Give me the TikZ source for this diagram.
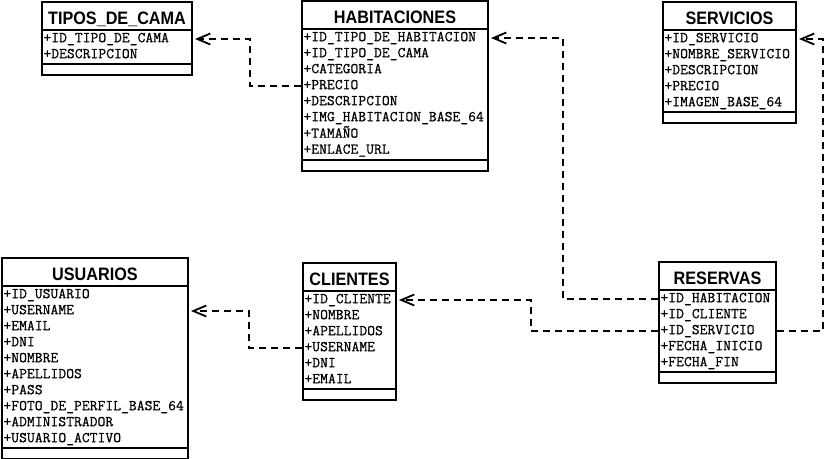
\documentclass[tikz,border=0pt]{standalone}
\usepackage{fontspec}
\setmonofont{Latin Modern Mono}[LetterSpace=0.8, FakeBold=0.9]
\newfontfamily\titlefont{Liberation Sans}
\usetikzlibrary{shapes.multipart,arrows.meta}

\newcommand{\titulo}[2]{\makebox[#1pt][c]{\titlefont\bfseries\fontsize{18}{18}\selectfont\rule[-5pt]{0pt}{26pt}\scalebox{0.9}[1]{#2}}}
\newcommand{\campos}[2]{\makebox[#1pt][l]{\ttfamily\fontsize{15}{16}\selectfont\begin{tabular}{@{}l@{}}#2\end{tabular}}}
\newcommand{\pie}{\rule{0pt}{9pt}}

\tikzset{
  tabla/.style={draw, line width=2pt, rectangle split, rectangle split parts=3,
    inner xsep=1.5pt, inner ysep=0pt, anchor=north west},
  rel/.style={line width=1.8pt, dash pattern=on 7pt off 5pt, -{Straight Barb[length=13pt,width=11pt]}, shorten >=2pt}
}

\begin{document}
\begin{tikzpicture}[x=1pt, y=-1pt]
    \useasboundingbox (0,0) rectangle (826,458);
    % tablas
    \node[tabla] (tipos) at (41,1) {\titulo{147}{TIPOS\_DE\_CAMA}\nodepart{two}\campos{147}{+ID\_TIPO\_DE\_CAMA\\+DESCRIPCION}\nodepart{three}\pie};
    \node[tabla] (hab) at (301,0) {\titulo{183}{HABITACIONES}\nodepart{two}\campos{183}{+ID\_TIPO\_DE\_HABITACION\\+ID\_TIPO\_DE\_CAMA\\+CATEGORIA\\+PRECIO\\+DESCRIPCION\\+IMG\_HABITACION\_BASE\_64\\+TAMAÑO\\+ENLACE\_URL}\nodepart{three}\pie};
    \node[tabla] (serv) at (662,1) {\titulo{130}{SERVICIOS}\nodepart{two}\campos{130}{+ID\_SERVICIO\\+NOMBRE\_SERVICIO\\+DESCRIPCION\\+PRECIO\\+IMAGEN\_BASE\_64}\nodepart{three}\pie};
    \node[tabla] (usu) at (1,257) {\titulo{183}{USUARIOS}\nodepart{two}\campos{183}{+ID\_USUARIO\\+USERNAME\\+EMAIL\\+DNI\\+NOMBRE\\+APELLIDOS\\+PASS\\+FOTO\_DE\_PERFIL\_BASE\_64\\+ADMINISTRADOR\\+USUARIO\_ACTIVO}\nodepart{three}\pie};
    \node[tabla] (cli) at (302,262) {\titulo{90}{CLIENTES}\nodepart{two}\campos{90}{+ID\_CLIENTE\\+NOMBRE\\+APELLIDOS\\+USERNAME\\+DNI\\+EMAIL}\nodepart{three}\pie};
    \node[tabla] (res) at (658,261) {\titulo{114}{RESERVAS}\nodepart{two}\campos{114}{+ID\_HABITACION\\+ID\_CLIENTE\\+ID\_SERVICIO\\+FECHA\_INICIO\\+FECHA\_FIN}\nodepart{three}\pie};
    % filas
    \coordinate (tipos-id) at ([yshift=-9pt]tipos.one split east);
    \coordinate (hab-id) at ([yshift=-9pt]hab.one split east);
    \coordinate (hab-precio) at ([yshift=-57pt]hab.one split west);
    \coordinate (serv-id) at ([yshift=-9pt]serv.one split east);
    \coordinate (usu-user) at ([yshift=-25pt]usu.one split east);
    \coordinate (cli-id) at ([yshift=-9pt]cli.one split east);
    \coordinate (cli-user) at ([yshift=-57pt]cli.one split west);
    \coordinate (res-hab) at ([yshift=-9pt]res.one split west);
    \coordinate (res-serv) at ([yshift=-41pt]res.one split west);
    \coordinate (res-serv-e) at ([yshift=-41pt]res.one split east);
    % relaciones
    \draw[rel] (hab-precio) -- ++(-51,0) |- (tipos-id);
    \draw[rel] (cli-user) -- ++(-53,0) |- (usu-user);
    \draw[rel] (res-hab) -- ++(-95,0) |- (hab-id);
    \draw[rel] (res-serv) -- ++(-127,0) |- (cli-id);
    \draw[rel] (res-serv-e) -- ++(46,0) |- (serv-id);
\end{tikzpicture}
\end{document}
